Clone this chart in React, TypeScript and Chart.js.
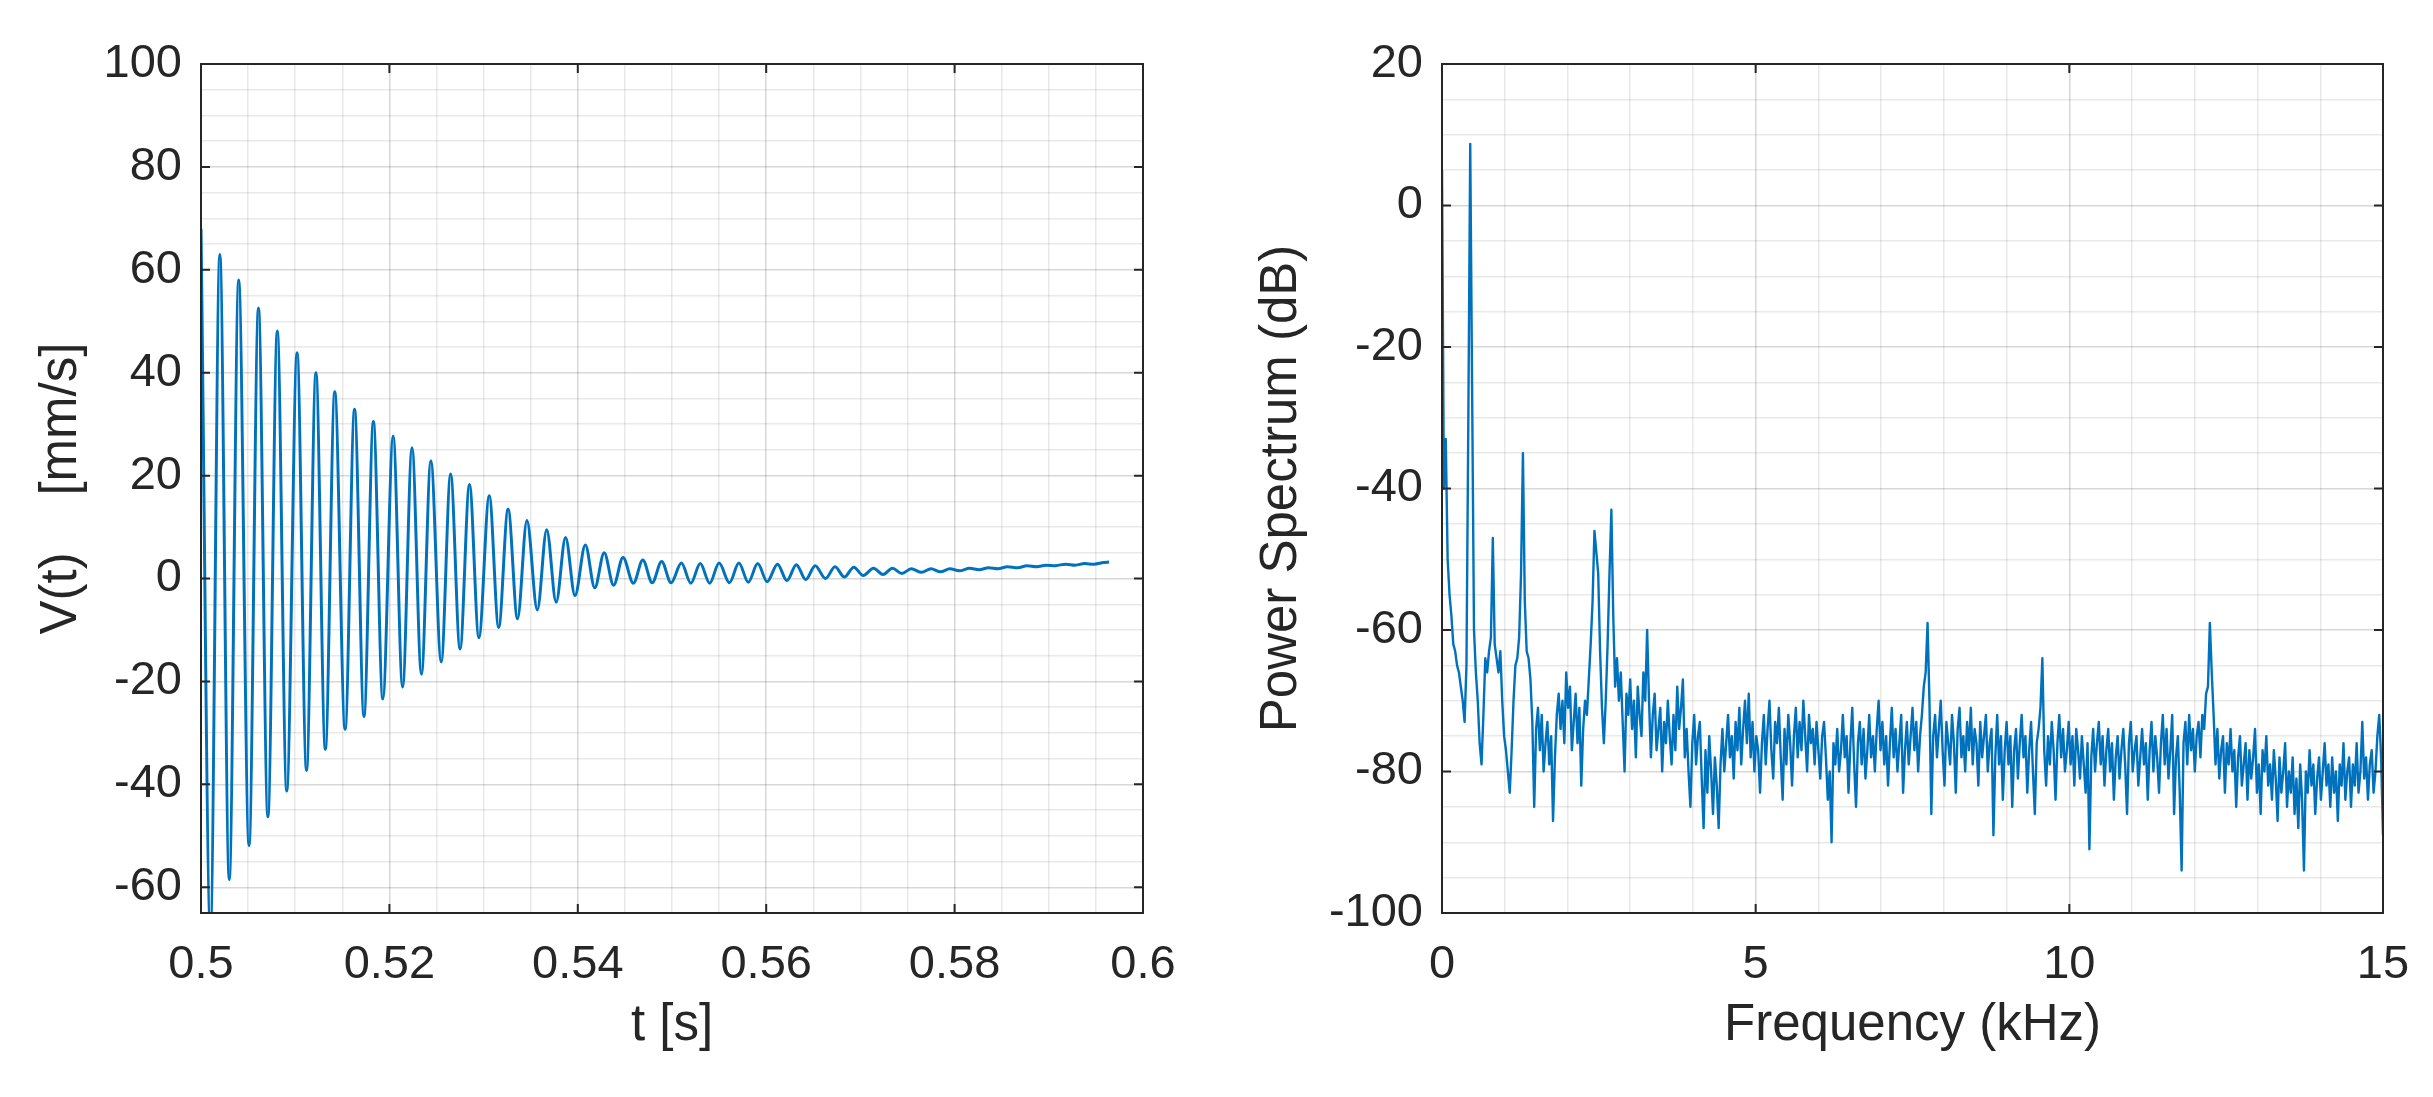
import React, { useEffect, useRef } from "react";
import { Chart, registerables } from "chart.js";

Chart.register(...registerables);

// ---------- Left panel: damped velocity signal (peaks / troughs) ----------
const timeSeconds = [
  0.5, 0.501, 0.502, 0.503, 0.504, 0.5051, 0.5061, 0.5071, 0.5081, 0.5091,
  0.5102, 0.5112, 0.5122, 0.5132, 0.5142, 0.5153, 0.5163, 0.5173, 0.5183, 0.5193,
  0.5204, 0.5214, 0.5224, 0.5234, 0.5244, 0.5255, 0.5265, 0.5275, 0.5285, 0.5295,
  0.5306, 0.5316, 0.5326, 0.5336, 0.5346, 0.5357, 0.5367, 0.5377, 0.5387, 0.5397,
  0.5408, 0.5418, 0.5428, 0.5438, 0.5448, 0.5459, 0.5469, 0.5479, 0.5489, 0.5499,
  0.551, 0.552, 0.553, 0.554, 0.555, 0.5561, 0.5571, 0.5581, 0.5591, 0.5601,
  0.5612, 0.5622, 0.5632, 0.5642, 0.5652, 0.5663, 0.5673, 0.5683, 0.5693, 0.5703,
  0.5714, 0.5724, 0.5734, 0.5744, 0.5754, 0.5765, 0.5775, 0.5785, 0.5795, 0.5805,
  0.5816, 0.5826, 0.5836, 0.5846, 0.5856, 0.5867, 0.5877, 0.5887, 0.5897, 0.5907,
  0.5918, 0.5928, 0.5938, 0.5948, 0.5958, 0.5964,
];
const velocityMmS = [
  68, -68, 63, -58.5, 58, -51.9, 52.6, -46.3, 48.1, -41.3,
  43.9, -37.3, 40.0, -33.2, 36.3, -29.3, 32.9, -26.8, 30.5, -23.4,
  27.7, -21.1, 25.4, -18.6, 22.9, -16.2, 20.3, -13.7, 18.3, -11.5,
  16.1, -9.5, 13.5, -7.8, 11.3, -6.1, 9.5, -4.6, 8.0, -3.3,
  6.5, -1.8, 5.0, -1.3, 4.1, -0.9, 3.6, -0.8, 3.3, -0.8,
  3.0, -0.9, 2.9, -0.9, 3.0, -0.8, 3.0, -0.7, 2.9, -0.6,
  2.8, -0.4, 2.7, -0.2, 2.5, 0.0, 2.3, 0.3, 2.2, 0.6,
  2.0, 0.8, 2.0, 1.0, 1.9, 1.2, 1.9, 1.3, 1.9, 1.5,
  2.0, 1.7, 2.1, 1.9, 2.3, 2.1, 2.5, 2.3, 2.6, 2.5,
  2.8, 2.6, 2.9, 2.8, 3.1, 3.2,
];
const timeTickLabels = [0.5, 0.52, 0.54, 0.56, 0.58, 0.6];
const velocityTickLabels = [-60, -40, -20, 0, 20, 40, 60, 80, 100];

// ---------- Right panel: power spectrum (one value per FFT bin) ----------
const SPECTRUM_BIN_KHZ = 0.03;
const spectrumDb = [
  5, -40, -33, -50, -55, -58, -62, -63, -65, -66,
  -68, -70, -73, -65, -30, 8.7, -26, -60, -66, -70,
  -76, -79, -72, -64, -66, -63, -61, -47, -62, -64,
  -66, -63, -70, -75, -77, -80, -83, -77, -70, -65,
  -64, -61, -52, -35, -56, -63, -64, -67, -73, -85,
  -74, -71, -77, -72, -80, -76, -73, -79, -75, -87,
  -78, -72, -69, -74, -70, -76, -66, -71, -68, -77,
  -73, -69, -76, -71, -82, -74, -70, -72, -67, -62,
  -56, -46, -49, -52, -63, -71, -76, -70, -62, -52,
  -43, -58, -68, -64, -70, -66, -73, -80, -69, -72,
  -67, -74, -70, -78, -68, -72, -75, -66, -70, -60,
  -70, -78, -72, -69, -77, -74, -71, -80, -73, -76,
  -70, -75, -79, -72, -77, -68, -74, -71, -67, -78,
  -74, -80, -85, -76, -72, -79, -75, -73, -81, -88,
  -77, -83, -75, -80, -86, -78, -82, -88, -79, -74,
  -80, -76, -72, -78, -75, -81, -73, -77, -71, -79,
  -74, -70, -76, -69, -78, -73, -80, -75, -77, -83,
  -76, -72, -79, -74, -70, -77, -81, -73, -76, -71,
  -78, -84, -74, -79, -72, -76, -82, -75, -71, -78,
  -73, -77, -70, -75, -80, -72, -76, -74, -79, -73,
  -77, -81, -75, -73, -78, -84, -80, -90, -76, -79,
  -74, -80, -77, -72, -78, -75, -83, -76, -71, -79,
  -85, -76, -73, -79, -74, -81, -77, -72, -78, -75,
  -80, -74, -70, -77, -73, -79, -75, -82, -76, -71,
  -78, -74, -80, -76, -72, -83, -77, -73, -79, -75,
  -71, -77, -73, -80, -75, -72, -68, -66, -59, -70,
  -86, -75, -72, -78, -74, -70, -77, -82, -73, -76,
  -79, -72, -76, -83, -74, -71, -78, -75, -80, -73,
  -77, -71, -79, -74, -76, -82, -73, -78, -75, -72,
  -80, -76, -74, -89, -78, -72, -79, -75, -84, -77,
  -73, -79, -75, -85, -77, -74, -81, -76, -72, -78,
  -75, -83, -77, -73, -80, -86, -76, -74, -71, -64,
  -77, -82, -75, -79, -73, -77, -84, -76, -72, -78,
  -74, -80, -77, -73, -79, -75, -82, -74, -77, -81,
  -75, -79, -83, -76, -91, -78, -74, -80, -76, -73,
  -79, -75, -82, -77, -74, -80, -76, -84, -78, -75,
  -81, -77, -74, -79, -86, -76, -73, -80, -77, -75,
  -82, -78, -74, -79, -76, -84, -77, -73, -80, -75,
  -78, -83, -76, -72, -79, -74, -81, -77, -72, -86,
  -78, -75, -83, -94, -76, -73, -79, -72, -77, -74,
  -80, -75, -73, -78, -72, -74, -69, -68, -59, -66,
  -72, -79, -74, -81, -77, -75, -83, -76, -79, -74,
  -80, -77, -85, -78, -75, -82, -79, -76, -84, -77,
  -81, -78, -74, -83, -79, -86, -77, -80, -75, -82,
  -79, -84, -77, -81, -87, -78, -83, -80, -76, -85,
  -80, -83, -78, -86, -81, -88, -79, -84, -94, -80,
  -83, -77, -82, -79, -86, -81, -78, -84, -80, -76,
  -82, -79, -85, -78, -83, -80, -87, -79, -82, -76,
  -84, -80, -78, -85, -79, -82, -76, -83, -80, -73,
  -81, -78, -84, -79, -77, -83, -80, -75, -72, -78,
  -89,
];
const freqTickLabels = [0, 5, 10, 15];
const powerTickLabels = [-100, -80, -60, -40, -20, 0, 20];

// ---------- styling ----------
const W = 2433;
const H = 1097;
const FONT = "'Liberation Sans', Arial, Helvetica, sans-serif";
const INK = "#262626";
const LINE = "#0072BD";
const GRID_MAJOR = "rgba(38,38,38,0.18)";
const GRID_MINOR = "rgba(38,38,38,0.10)";

const inList = (list: number[], v: number) => list.some((m) => Math.abs(m - v) < 1e-7);

const boxPlugin = {
  id: "matlabBox",
  afterDatasetsDraw(chart: any, _args: any, opts: any) {
    const { ctx, chartArea: a } = chart;
    const xs = chart.scales.x;
    const ys = chart.scales.y;
    const tl = 9;
    ctx.save();
    ctx.strokeStyle = INK;
    ctx.lineWidth = 2;
    ctx.beginPath();
    for (const v of opts.xMajor) {
      const p = xs.getPixelForValue(v);
      ctx.moveTo(p, a.bottom);
      ctx.lineTo(p, a.bottom - tl);
      ctx.moveTo(p, a.top);
      ctx.lineTo(p, a.top + tl);
    }
    for (const v of opts.yMajor) {
      const p = ys.getPixelForValue(v);
      ctx.moveTo(a.left, p);
      ctx.lineTo(a.left + tl, p);
      ctx.moveTo(a.right, p);
      ctx.lineTo(a.right - tl, p);
    }
    ctx.stroke();
    ctx.strokeRect(a.left, a.top, a.right - a.left, a.bottom - a.top);
    ctx.restore();
  },
};

type PanelCfg = {
  points: { x: number; y: number }[];
  xMin: number; xMax: number; xStep: number; xMajor: number[]; xFmt: (v: number) => string;
  yMin: number; yMax: number; yStep: number; yMajor: number[];
  xTitle: string; yTitle: string;
  canvasWidth: number; yAxisWidth: number; yTitlePad: number; padRight: number;
  lineWidth: number; smooth: boolean;
};

function buildConfig(c: PanelCfg): any {
  return {
    type: "line",
    data: {
      datasets: [
        {
          data: c.points,
          borderColor: LINE,
          borderWidth: c.lineWidth,
          pointRadius: 0,
          fill: false,
          tension: c.smooth ? 0.4 : 0,
          cubicInterpolationMode: c.smooth ? "monotone" : "default",
          borderJoinStyle: "round",
        },
      ],
    },
    options: {
      animation: false,
      responsive: false,
      devicePixelRatio: 1,
      layout: { padding: { top: 64, right: c.padRight, bottom: 0, left: 0 } },
      plugins: {
        legend: { display: false },
        tooltip: { enabled: false },
        matlabBox: { xMajor: c.xMajor, yMajor: c.yMajor },
      },
      scales: {
        x: {
          type: "linear",
          min: c.xMin,
          max: c.xMax,
          border: { display: false },
          grid: {
            drawTicks: false,
            lineWidth: 1.5,
            color: (ctx: any) => (ctx.tick && inList(c.xMajor, ctx.tick.value) ? GRID_MAJOR : GRID_MINOR),
          },
          ticks: {
            stepSize: c.xStep,
            autoSkip: false,
            maxRotation: 0,
            padding: 24,
            color: INK,
            font: { family: FONT, size: 47 },
            callback: (v: number) => (inList(c.xMajor, v) ? c.xFmt(v) : ""),
          },
          title: {
            display: true,
            text: c.xTitle,
            color: INK,
            font: { family: FONT, size: 51 },
            padding: { top: 0, bottom: 40 },
          },
          afterFit: (s: any) => {
            s.height = H - 913;
            s.paddingLeft = 0;
            s.paddingRight = 0;
          },
        },
        y: {
          type: "linear",
          min: c.yMin,
          max: c.yMax,
          border: { display: false },
          grid: {
            drawTicks: false,
            lineWidth: 1.5,
            color: (ctx: any) => (ctx.tick && inList(c.yMajor, ctx.tick.value) ? GRID_MAJOR : GRID_MINOR),
          },
          ticks: {
            stepSize: c.yStep,
            autoSkip: false,
            padding: 19,
            color: INK,
            font: { family: FONT, size: 47 },
            callback: (v: number) => (inList(c.yMajor, v) ? String(v) : ""),
          },
          title: {
            display: true,
            text: c.yTitle,
            color: INK,
            font: { family: FONT, size: 51 },
            padding: { top: c.yTitlePad, bottom: 0 },
          },
          afterFit: (s: any) => {
            s.width = c.yAxisWidth;
            s.paddingTop = 0;
            s.paddingBottom = 0;
          },
        },
      },
    },
    plugins: [boxPlugin],
  };
}

function Panel({ left, cfg }: { left: number; cfg: PanelCfg }) {
  const ref = useRef<HTMLCanvasElement>(null);
  useEffect(() => {
    const chart = new Chart(ref.current as HTMLCanvasElement, buildConfig(cfg));
    return () => chart.destroy();
  }, []);
  return (
    <canvas
      ref={ref}
      width={cfg.canvasWidth}
      height={H}
      style={{ position: "absolute", left, top: 0, width: cfg.canvasWidth, height: H }}
    />
  );
}

export default function App() {
  const velocityPoints = timeSeconds.map((t, i) => ({ x: t, y: velocityMmS[i] }));
  const spectrumPoints = spectrumDb.map((db, i) => ({ x: i * SPECTRUM_BIN_KHZ, y: db }));

  const leftCfg: PanelCfg = {
    points: velocityPoints,
    xMin: 0.5, xMax: 0.6, xStep: 0.005, xMajor: timeTickLabels,
    xFmt: (v) => String(Number(v.toFixed(3))),
    yMin: -65, yMax: 100, yStep: 5, yMajor: velocityTickLabels,
    xTitle: "t [s]", yTitle: "V(t)    [mm/s]",
    canvasWidth: 1200, yAxisWidth: 201, yTitlePad: 31, padRight: 1200 - 1143,
    lineWidth: 3, smooth: true,
  };
  const rightCfg: PanelCfg = {
    points: spectrumPoints,
    xMin: 0, xMax: 15, xStep: 1, xMajor: freqTickLabels,
    xFmt: (v) => String(v),
    yMin: -100, yMax: 20, yStep: 5, yMajor: powerTickLabels,
    xTitle: "Frequency (kHz)", yTitle: "Power Spectrum (dB)",
    canvasWidth: W - 1200, yAxisWidth: 1442 - 1200, yTitlePad: 51, padRight: W - 2383,
    lineWidth: 2.4, smooth: false,
  };

  return (
    <div style={{ position: "absolute", left: 0, top: 0, width: W, height: H, background: "#fff", overflow: "hidden" }}>
      <Panel left={0} cfg={leftCfg} />
      <Panel left={1200} cfg={rightCfg} />
    </div>
  );
}
